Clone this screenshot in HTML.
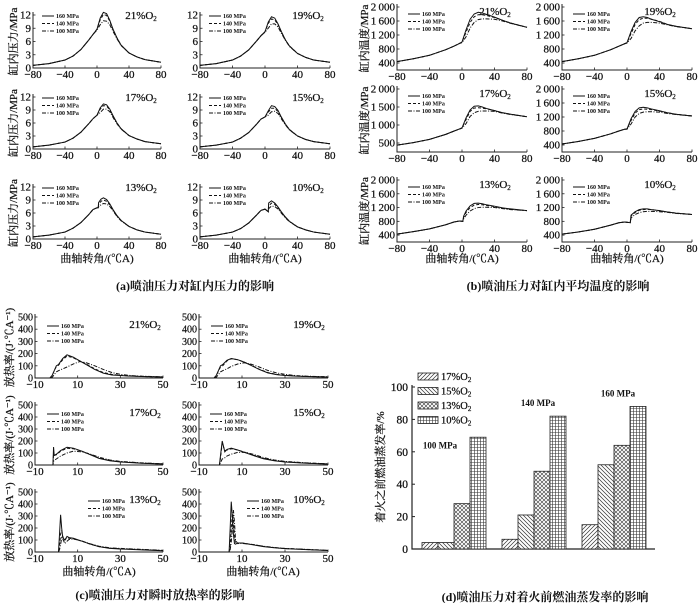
<!DOCTYPE html>
<html><head><meta charset="utf-8"><style>
html,body{margin:0;padding:0;background:#fff;}
svg{display:block;font-family:"Liberation Serif","Noto Serif CJK SC",serif;}
</style></head><body>
<svg id="fig" width="700" height="603" viewBox="0 0 700 603" xmlns="http://www.w3.org/2000/svg">
<defs>
<pattern id="hF" width="4" height="4" patternUnits="userSpaceOnUse"><rect width="4" height="4" fill="#fff"/><path d="M0,4 L4,0 M-1,1 L1,-1 M3,5 L5,3" stroke="#333" stroke-width="0.7"/></pattern>
<pattern id="hB" width="4" height="4" patternUnits="userSpaceOnUse"><rect width="4" height="4" fill="#fff"/><path d="M0,0 L4,4 M-1,3 L1,5 M3,-1 L5,1" stroke="#333" stroke-width="0.7"/></pattern>
<pattern id="hX" width="4" height="4" patternUnits="userSpaceOnUse"><rect width="4" height="4" fill="#fff"/><path d="M0,0 L4,4 M0,4 L4,0" stroke="#333" stroke-width="0.6"/></pattern>
<pattern id="hG" width="3" height="3" patternUnits="userSpaceOnUse"><rect width="3" height="3" fill="#fff"/><path d="M0,0.5 H3 M0.5,0 V3" stroke="#333" stroke-width="0.6"/></pattern>
</defs>
</svg>
<script>
// ---------- (a) cylinder pressure data ----------
const pX = [-80,-60,-40,-30,-20,-10,-5,0,4,8,12,16,20,25,30,40,50,60,80];
const p21_160 = [0.6,1.0,1.8,2.7,4.2,6.4,7.6,8.8,11.3,12.6,12.3,10.8,8.8,6.8,5.2,3.4,2.5,1.9,1.3];
const p21_140 = [0.6,1.0,1.8,2.7,4.2,6.4,7.6,8.8,10.9,12.1,11.9,10.6,8.7,6.8,5.2,3.4,2.5,1.9,1.3];
const p21_100 = [0.6,1.0,1.8,2.7,4.2,6.4,7.6,8.6,9.8,10.7,10.6,9.8,8.3,6.6,5.1,3.4,2.5,1.9,1.3];
const p19_160 = [0.6,1.0,1.8,2.7,4.1,6.2,7.3,8.2,10.4,11.6,11.3,10.0,8.3,6.4,5.0,3.3,2.4,1.8,1.3];
const p19_140 = [0.6,1.0,1.8,2.7,4.1,6.2,7.3,8.2,10.1,11.1,10.9,9.8,8.2,6.4,5.0,3.3,2.4,1.8,1.3];
const p19_100 = [0.6,1.0,1.8,2.7,4.1,6.2,7.3,8.1,9.0,10.0,10.0,9.3,7.9,6.3,4.9,3.3,2.4,1.8,1.3];
const p17_160 = [0.5,0.9,1.6,2.5,3.9,5.9,7.0,7.8,9.5,10.4,10.2,9.2,7.7,6.0,4.7,3.1,2.3,1.7,1.2];
const p17_140 = [0.5,0.9,1.6,2.5,3.9,5.9,7.0,7.8,9.2,10.0,9.9,9.0,7.6,6.0,4.7,3.1,2.3,1.7,1.2];
const p17_100 = [0.5,0.9,1.6,2.5,3.9,5.9,7.0,7.8,8.4,9.2,9.2,8.6,7.3,5.8,4.6,3.1,2.3,1.7,1.2];
const p15_160 = [0.5,0.9,1.6,2.5,3.8,5.8,6.9,7.4,8.8,10.0,9.8,8.9,7.4,5.8,4.5,3.0,2.2,1.7,1.2];
const p15_140 = [0.5,0.9,1.6,2.5,3.8,5.8,6.9,7.4,8.5,9.4,9.4,8.6,7.3,5.7,4.5,3.0,2.2,1.7,1.2];
const p15_100 = [0.5,0.9,1.6,2.5,3.8,5.8,6.9,7.4,7.8,8.6,8.7,8.2,7.0,5.6,4.4,3.0,2.2,1.7,1.2];
const pX13 = [-80,-60,-40,-30,-20,-10,-5,0,1.5,2,5,8,12,16,20,25,30,40,50,60,80];
const p13_160 = [0.5,0.9,1.6,2.5,3.8,5.7,6.8,7.2,7.2,8.4,9.2,9.5,9.1,8.1,6.8,5.4,4.3,2.9,2.1,1.6,1.1];
const p13_140 = [0.5,0.9,1.6,2.5,3.8,5.7,6.8,7.2,7.2,7.9,8.7,9.0,8.7,7.9,6.7,5.3,4.3,2.9,2.1,1.6,1.1];
const p13_100 = [0.5,0.9,1.6,2.5,3.8,5.7,6.8,7.2,7.2,7.4,7.9,8.2,8.1,7.5,6.5,5.2,4.2,2.9,2.1,1.6,1.1];
const pX10 = [-80,-60,-40,-30,-20,-10,-5,0,4,4.5,8,12,16,20,25,30,40,50,60,80];
const p10_160 = [0.5,0.9,1.6,2.4,3.7,5.6,6.6,6.9,6.3,8.3,8.8,8.3,7.4,6.3,5.1,4.1,2.8,2.1,1.6,1.1];
const p10_140 = [0.5,0.9,1.6,2.4,3.7,5.6,6.6,6.9,6.3,7.6,8.3,8.0,7.2,6.2,5.0,4.1,2.8,2.1,1.6,1.1];
const p10_100 = [0.5,0.9,1.6,2.4,3.7,5.6,6.6,6.9,6.3,7.0,7.6,7.5,6.9,6.0,4.9,4.0,2.8,2.1,1.6,1.1];
// ---------- (b) mean temperature data ----------
const tX = [-80,-60,-40,-20,-10,-3,0,5,10,15,20,25,30,40,50,60,80];
const t21_160 = [440,520,620,780,880,960,1000,1350,1650,1800,1850,1830,1790,1710,1620,1540,1420];
const t21_140 = [440,520,620,780,880,960,1000,1280,1560,1720,1780,1780,1760,1700,1620,1540,1420];
const t21_100 = [440,520,620,780,880,960,980,1150,1400,1560,1640,1660,1660,1650,1600,1530,1420];
const t19_160 = [440,520,620,780,880,950,980,1300,1560,1700,1720,1700,1650,1580,1500,1450,1380];
const t19_140 = [440,520,620,780,880,950,980,1240,1500,1640,1680,1680,1650,1590,1500,1450,1380];
const t19_100 = [440,520,620,780,880,950,970,1100,1320,1460,1540,1560,1560,1540,1490,1440,1380];
const t17_160 = [440,510,600,740,830,890,920,1200,1420,1520,1530,1500,1460,1400,1340,1300,1230];
const t17_140 = [440,510,600,740,830,890,920,1150,1380,1470,1480,1470,1450,1400,1340,1300,1230];
const t17_100 = [440,510,600,740,830,890,910,1040,1240,1340,1380,1390,1390,1380,1330,1290,1230];
const t15_160 = [430,500,590,720,800,850,860,1150,1360,1460,1480,1460,1430,1380,1320,1280,1230];
const t15_140 = [430,500,590,720,800,850,860,1100,1310,1410,1430,1420,1410,1370,1320,1280,1230];
const t15_100 = [430,500,590,720,800,850,850,1000,1200,1300,1340,1350,1350,1340,1300,1270,1230];
const tX13 = [-80,-60,-40,-20,-10,-3,1,2,5,10,15,20,25,30,40,50,60,80];
const t13_160 = [430,500,580,700,780,810,800,950,1100,1250,1320,1330,1310,1280,1240,1190,1160,1110];
const t13_140 = [430,500,580,700,780,810,800,920,1060,1200,1270,1290,1280,1260,1230,1180,1150,1110];
const t13_100 = [430,500,580,700,780,810,800,870,980,1100,1170,1200,1210,1210,1200,1170,1140,1110];
const tX10 = [-80,-60,-40,-20,-10,-3,4,5,10,15,20,25,30,40,50,60,80];
const t10_160 = [430,490,570,690,760,780,760,980,1080,1140,1160,1160,1140,1110,1070,1040,1000];
const t10_140 = [430,490,570,690,760,780,760,960,1060,1120,1140,1150,1140,1110,1070,1040,1000];
const t10_100 = [430,490,570,690,760,780,760,900,1000,1050,1080,1090,1090,1080,1060,1030,1000];
// ---------- (c) heat release rate data ----------
const hX = [-10,-3,-2,0,1,3,5,8,11,14,18,22,26,30,35,40,50];
const h21_160 = [0,0,20,100,110,160,190,170,140,110,70,40,25,20,15,12,8];
const h21_140 = [0,0,20,95,105,150,180,165,140,115,75,45,30,22,17,13,8];
const h21_100 = [0,0,5,50,60,75,90,115,135,125,100,70,45,30,20,15,10];
const h19_160 = [0,0,20,100,110,145,160,150,130,105,70,42,28,20,15,12,8];
const h19_140 = [0,0,20,90,100,140,158,150,130,108,72,45,30,22,17,13,8];
const h19_100 = [0,0,5,50,60,75,95,115,125,115,90,62,42,30,20,15,10];
const hX17 = [-10,-1.6,-1.3,-1,0,2,5,8,12,16,20,25,30,40,50];
const h17_160 = [0,0,150,80,90,120,148,140,115,85,55,35,25,15,8];
const h17_140 = [0,0,90,80,85,115,140,135,115,88,58,38,27,16,9];
const h17_100 = [0,0,30,40,50,75,100,115,110,90,65,42,30,18,10];
const hX15 = [-10,-0.5,0,0.8,2,3,5,8,12,16,20,25,30,40,50];
const h15_160 = [0,0,80,200,110,130,140,125,100,75,52,35,25,15,8];
const h15_140 = [0,0,60,180,120,125,135,125,102,78,55,37,27,16,9];
const h15_100 = [0,0,20,50,60,75,90,105,105,85,62,42,30,18,10];
const hX13 = [-10,1,1.5,2,2.5,3,4,5,6,8,12,16,20,25,30,40,50];
const h13_160 = [0,0,150,310,200,120,100,130,120,115,90,65,45,30,25,18,10];
const h13_140 = [0,0,50,150,180,130,100,120,115,110,90,65,45,32,27,20,12];
const h13_100 = [0,0,20,60,120,110,70,90,105,108,92,68,48,35,30,22,14];
const hX10 = [-10,4,4.5,5,5.5,6,6.5,7,8,10,15,20,25,30,40,50];
const h10_160 = [0,0,200,420,300,150,70,65,75,75,60,45,35,28,20,12];
const h10_140 = [0,0,50,200,320,280,140,70,75,75,62,47,36,29,21,13];
const h10_100 = [0,0,20,80,200,350,250,100,70,72,63,48,38,30,22,14];
// ---------- (d) bar chart data ----------
const barGroups = ["100 MPa","140 MPa","160 MPa"];
const barSeries = ["17%O2","15%O2","13%O2","10%O2"];
const bar17 = [4,6,15];
const bar15 = [4,21,52];
const bar13 = [28,48,64];
const bar10 = [69,82,88];
const barTicks = [0,20,40,60,80,100];

const NS = "http://www.w3.org/2000/svg";
const svg = document.getElementById('fig');
function mk(tag, attrs, parent){
  const e = document.createElementNS(NS, tag);
  for (const k in attrs) e.setAttribute(k, attrs[k]);
  (parent||svg).appendChild(e);
  return e;
}
const dashes = ["none","3,2","4,1.5,1,1.5"];
const serNames = ["160 MPa","140 MPa","100 MPa"];
const TS = {fill:'#111', stroke:'#111', 'stroke-width':0.25};

function subplot(c){
  const g = mk('g', {});
  
  
  const sx = v => c.x0 + (v - c.xd[0]) / (c.xd[1] - c.xd[0]) * (c.x1 - c.x0);
  const sy = v => c.yb - (v - c.yd[0]) / (c.yd[1] - c.yd[0]) * (c.yb - c.yt);
  const ax = mk('path', {d:`M${c.x0},${c.yt-3} V${c.yb} H${c.x1}`, stroke:'#222', fill:'none', 'stroke-width':1}, g);
  
  
  c.xticks.forEach(v => {
    mk('line', {x1:sx(v), x2:sx(v), y1:c.yb, y2:c.yb-2.5, stroke:'#222', 'stroke-width':0.8}, g);
    const t = mk('text', Object.assign({x:sx(v), y:c.yb+10, 'font-size':11, 'text-anchor':'middle'}, TS), g);
    
    
    t.textContent = v < 0 ? '\u2212' + (-v) : String(v);
  });
  c.yticks.forEach((v,i) => {
    mk('line', {x1:c.x0, x2:c.x0+2.5, y1:sy(v), y2:sy(v), stroke:'#222', 'stroke-width':0.8}, g);
    const t = mk('text', Object.assign({x:c.x0-2, y:sy(v)+3.5, 'font-size':c.yfs||11, 'text-anchor':'end'}, TS), g);
    
    
    t.textContent = c.ylabels[i];
  });
  c.series.forEach((ys,si) => {
    const d = ys.map((v,i) => (i ? 'L' : 'M') + sx(c.xs[i]).toFixed(2) + ',' + sy(v).toFixed(2)).join(' ');
    const p = mk('path', {d, fill:'none', stroke:'#111', 'stroke-width':1, 'stroke-dasharray':dashes[si]}, g);
    
    
  });
  const lx = c.x0 + c.lx, ly = c.yt + c.ly;
  serNames.forEach((n,i) => {
    const yy = ly + i*7.5;
    mk('line', {x1:lx, x2:lx+12, y1:yy, y2:yy, stroke:'#111', 'stroke-width':1, 'stroke-dasharray':dashes[i]}, g);
    const t = mk('text', {x:lx+14, y:yy+2, 'font-size':6, fill:'#111', 'font-weight':'bold'}, g);
    
    
    t.textContent = n;
  });
  const tt = mk('text', Object.assign({x:c.x0 + c.tx, y:c.yt + c.ty, 'font-size':11, 'text-anchor':'middle'}, TS), g);
  
  
  tt.textContent = c.title + '%O';
  const sub = mk('tspan', {'font-size':7, dy:2}, tt);
  sub.textContent = '2';
  if (c.ylab){
    const cy = (c.yb + c.yt)/2;
    const yl = mk('text', Object.assign({x:c.ylx, y:cy, 'font-size':11, 'text-anchor':'middle', transform:`rotate(-90 ${c.ylx} ${cy})`}, TS), g);
    
    
    yl.textContent = c.ylab;
  }
}
// (a)
const aRows = [[68,15],[149,97],[239,187]];
const aCols = [[33,161],[200,330]];
const aData = [[p21_160,p21_140,p21_100,pX,'21'],[p19_160,p19_140,p19_100,pX,'19'],[p17_160,p17_140,p17_100,pX,'17'],[p15_160,p15_140,p15_100,pX,'15'],[p13_160,p13_140,p13_100,pX13,'13'],[p10_160,p10_140,p10_100,pX10,'10']];
aData.forEach((d,i) => {
  const r = aRows[Math.floor(i/2)], cc = aCols[i%2];
  subplot({name:'pressure-plot-'+d[4], x0:cc[0], x1:cc[1], yb:r[0], yt:r[1], xd:[-80,80], yd:[0,12],
    xticks:[-80,-40,0,40,80], yticks:[0,3,6,9,12], ylabels:['0','3','6','9','12'],
    xs:d[3], series:[d[0],d[1],d[2]], lx:9, ly:1, tx:108, ty:4, title:d[4],
    ylab: i%2==0 ? '缸内压力/MPa' : null, ylx:17});
});
// (b)
const bRows = [[70,7],[152,89],[242,180]];
const bCols = [[397,527],[562,692]];
const bData = [[t21_160,t21_140,t21_100,tX,'21'],[t19_160,t19_140,t19_100,tX,'19'],[t17_160,t17_140,t17_100,tX,'17'],[t15_160,t15_140,t15_100,tX,'15'],[t13_160,t13_140,t13_100,tX13,'13'],[t10_160,t10_140,t10_100,tX10,'10']];
bData.forEach((d,i) => {
  const r = bRows[Math.floor(i/2)], cc = bCols[i%2];
  const is17 = d[4]=='17';
  subplot({name:'temperature-plot-'+d[4], x0:cc[0], x1:cc[1], yb:r[0], yt:r[1], xd:[-80,80], yd: is17?[250,2000]:[200,2000],
    xticks:[-80,-40,0,40,80], yticks: is17?[500,1000,1500,2000]:[400,800,1200,1600,2000],
    ylabels: is17?['500','1\u2009000','1\u2009500','2\u2009000']:['400','800','1\u2009200','1\u2009600','2\u2009000'],
    xs:d[3], series:[d[0],d[1],d[2]], lx:11, ly:7, tx:98, ty:8, title:d[4],
    ylab: i%2==0 ? '缸内温度/MPa' : null, ylx:368});
});
// (c)
const cRows = [[378,317],[465,405],[552,492]];
const cCols = [[35,163],[199,328]];
const cData = [[h21_160,h21_140,h21_100,hX,'21',12],[h19_160,h19_140,h19_100,hX,'19',12],[h17_160,h17_140,h17_100,hX17,'17',12],[h15_160,h15_140,h15_100,hX15,'15',11],[h13_160,h13_140,h13_100,hX13,'13',53],[h10_160,h10_140,h10_100,hX10,'10',48]];
cData.forEach((d,i) => {
  const r = cRows[Math.floor(i/2)], cc = cCols[i%2];
  subplot({name:'heat-release-plot-'+d[4], x0:cc[0], x1:cc[1], yb:r[0], yt:r[1], xd:[-10,50], yd:[0,500],
    xticks:[-10,10,30,50], yticks:[0,100,200,300,400,500], ylabels:['0','100','200','300','400','500'], yfs:10,
    xs:d[3], series:[d[0],d[1],d[2]], lx:d[5], ly:9, tx:110, ty:11, title:d[4],
    ylab: i%2==0 ? '放热率/(J·℃A⁻¹)' : null, ylx:13});
});
[[97,262],[265,262],[462,262],[627,262],[99,575],[263,575]].forEach(p => {
  const t = mk('text', Object.assign({x:p[0], y:p[1], 'font-size':11, 'text-anchor':'middle'}, TS));
  
  
  t.textContent = '曲轴转角/(℃A)';
});
[[195,290,'(a)喷油压力对缸内压力的影响'],[558,290,'(b)喷油压力对缸内平均温度的影响'],[160,599,'(c)喷油压力对瞬时放热率的影响'],[545,601,'(d)喷油压力对着火前燃油蒸发率的影响']].forEach(p => {
  const t = mk('text', {x:p[0], y:p[1], 'font-size':12, 'font-weight':'bold', 'text-anchor':'middle', fill:'#111'});
  
  
  t.textContent = p[2];
});
// (d) bar chart
(function(){
  const g = mk('g', {});
  
  
  const X0 = 412, X1 = 655, YB = 549, YT = 387;
  const sy = v => YB - v/100*(YB-YT);
  const ax = mk('path', {d:`M${X0},${YT-2} V${YB} H${X1}`, stroke:'#222', fill:'none', 'stroke-width':1.2}, g);
  
  
  barTicks.forEach(v => {
    mk('line', {x1:X0, x2:X0+3, y1:sy(v), y2:sy(v), stroke:'#222'}, g);
    const t = mk('text', Object.assign({x:X0-4, y:sy(v)+4, 'font-size':11.5, 'text-anchor':'end'}, TS), g);
    
    
    t.textContent = v;
  });
  const yl = mk('text', Object.assign({x:384, y:467, 'font-size':11, 'text-anchor':'middle', transform:'rotate(-90 384 467)'}, TS), g);
  
  
  yl.textContent = '着火之前燃油蒸发率/%';
  const all = [bar17, bar15, bar13, bar10];
  const fills = ['url(#hF)','url(#hB)','url(#hX)','url(#hG)'];
  const gStart = [422, 502, 582], bw = 16;
  barGroups.forEach((gn, gi) => {
    all.forEach((arr, s) => {
      const x = gStart[gi] + s*bw;
      const r = mk('rect', {x, y:sy(arr[gi]), width:bw, height:sy(0)-sy(arr[gi]), fill:fills[s], stroke:'#222', 'stroke-width':0.8}, g);
      
      
    });
    const top = Math.max(...all.map(a => a[gi]));
    const lbx = gi==0 ? 440 : gStart[gi] + 36;
    const lby = gi==0 ? sy(all[2][gi]) - 55 : sy(top) - 10;
    const t = mk('text', {x:lbx, y:lby, 'font-size':9, 'font-weight':'bold', 'text-anchor':'middle', fill:'#111'}, g);
    
    
    t.textContent = gn;
  });
  barSeries.forEach((n, s) => {
    const y = 373 + s*14.5;
    const r = mk('rect', {x:418, y, width:20, height:7, fill:fills[s], stroke:'#222', 'stroke-width':0.8}, g);
    
    
    const t = mk('text', Object.assign({x:441, y:y+7, 'font-size':10.5}, TS), g);
    
    
    t.textContent = n.replace('O2','O');
    const sb = mk('tspan', {'font-size':7, dy:2}, t);
    sb.textContent = '2';
  });
})();
</script>
</body></html>
